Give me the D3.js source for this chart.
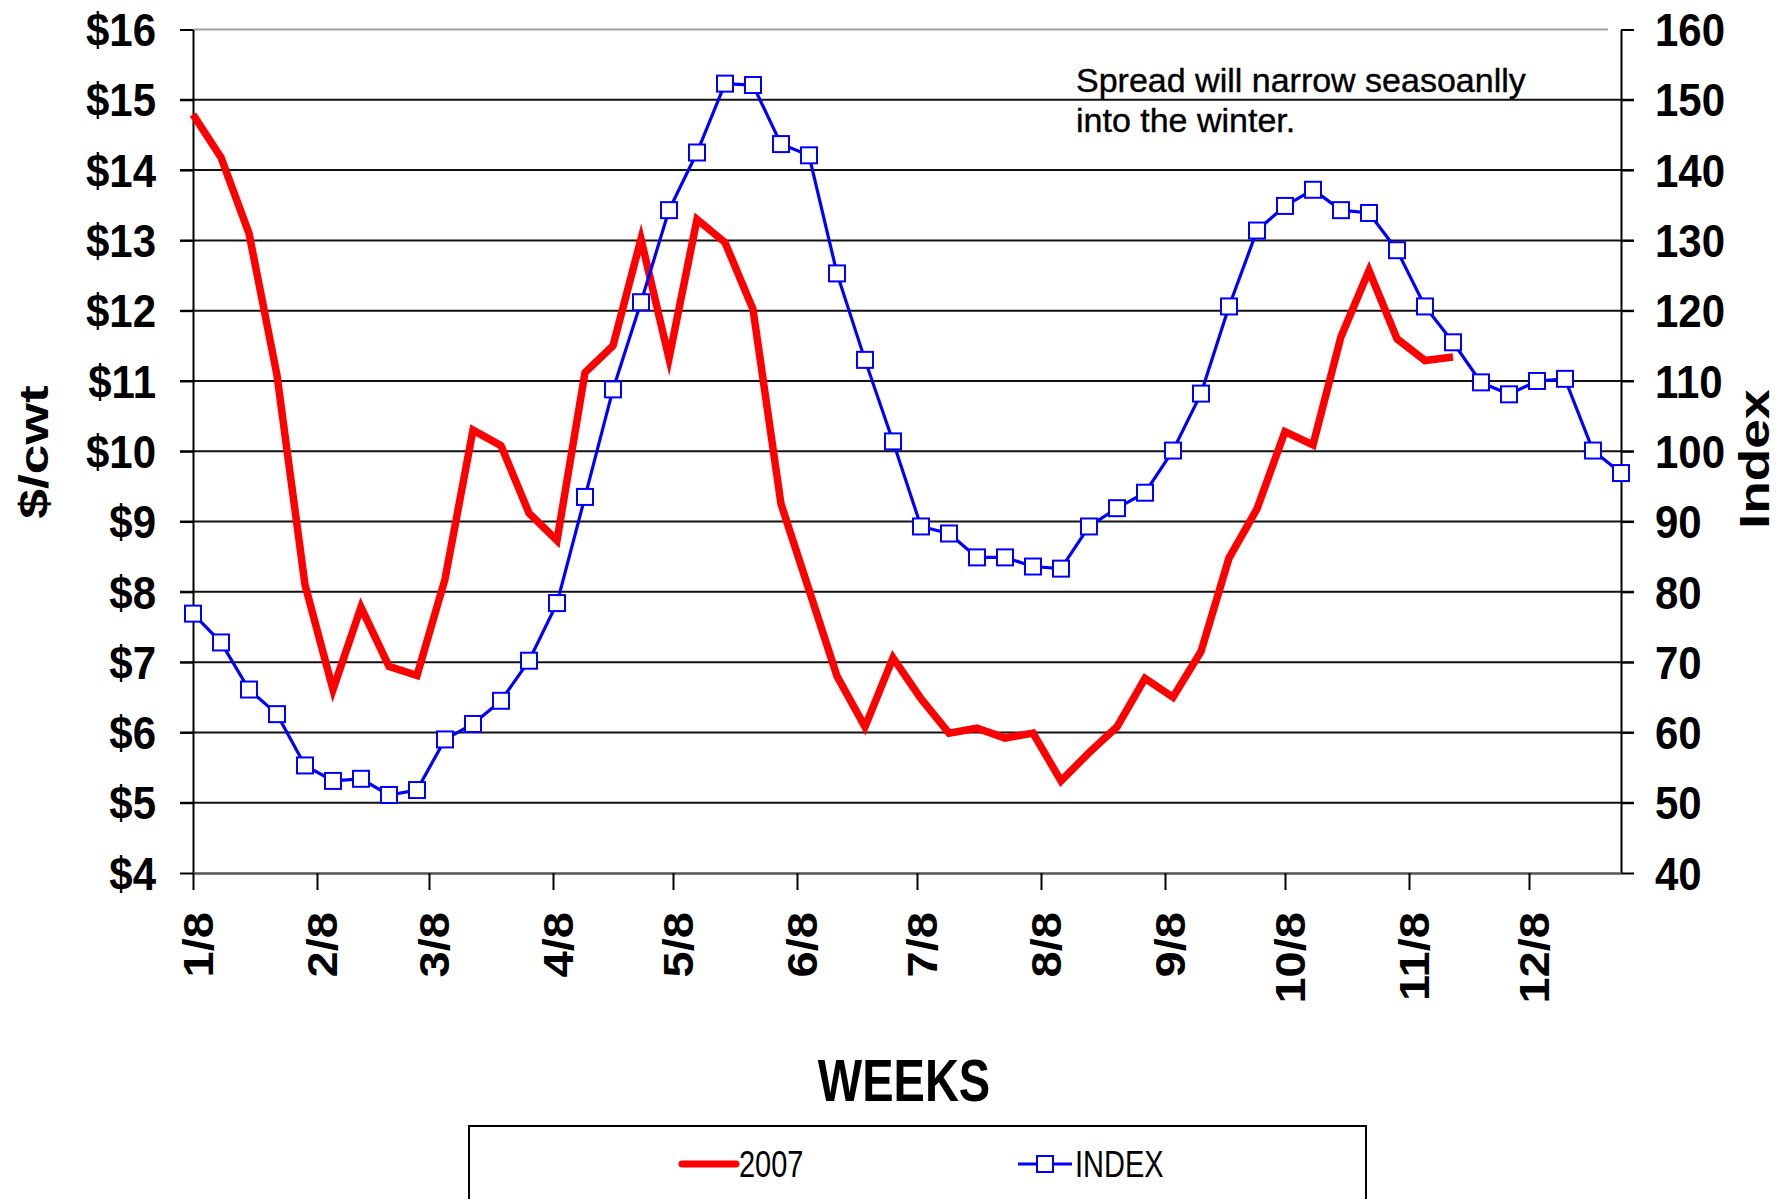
<!DOCTYPE html>
<html><head><meta charset="utf-8">
<script src="https://cdn.jsdelivr.net/npm/d3@7"></script>
<style>body{margin:0;background:#fff}</style>
</head><body>
<svg id="c" width="1778" height="1199"></svg>
<script>
// ---- data ----
const weekLabels = ["1/8","1/15","1/22","1/29","2/5","2/12","2/19","2/26","3/5","3/12","3/19","3/26",
  "4/2","4/9","4/16","4/23","4/30","5/7","5/14","5/21","5/28","6/4","6/11","6/18","6/25",
  "7/2","7/9","7/16","7/23","7/30","8/6","8/13","8/20","8/27","9/3","9/10","9/17","9/24",
  "10/1","10/8","10/15","10/22","10/29","11/5","11/12","11/19","11/26","12/3","12/10","12/17","12/24","12/31"];
const series2007 = [14.79,14.18,13.10,11.08,8.10,6.61,7.78,6.94,6.81,8.18,10.30,10.08,9.12,8.73,
  11.12,11.50,13.02,11.32,13.30,12.97,12.02,9.25,8.03,6.80,6.08,7.06,6.48,5.99,6.06,5.92,5.99,
  5.31,5.71,6.08,6.77,6.50,7.15,8.48,9.18,10.28,10.09,11.63,12.57,11.60,11.29,11.34];
const seriesIndex = [76.9,72.8,66.1,62.6,55.3,53.1,53.4,51.1,51.8,59.0,61.2,64.5,70.2,78.4,
  93.5,108.8,121.2,134.3,142.5,152.3,152.1,143.7,142.1,125.3,113.0,101.4,89.3,88.3,84.9,84.9,
  83.6,83.3,89.3,91.9,94.1,100.1,108.2,120.6,131.4,134.9,137.2,134.3,133.9,128.6,120.6,115.5,
  109.8,108.1,110.0,110.3,100.1,96.9];
const xTickLabels = ["1/8","2/8","3/8","4/8","5/8","6/8","7/8","8/8","9/8","10/8","11/8","12/8"];
const leftTicks = [4,5,6,7,8,9,10,11,12,13,14,15,16];
const rightTicks = [40,50,60,70,80,90,100,110,120,130,140,150,160];
const seriesNames = ["2007","INDEX"];
const noteLines = ["Spread will narrow seasoanlly","into the winter."];

// ---- layout ----
const W = 1778, H = 1199;
const m = {left:193, right:1621, top:29.5, bottom:873};
const FONT = "'Liberation Sans', Arial, Helvetica, sans-serif";
const parse = d3.timeParse("%m/%d/%Y");
const dates = weekLabels.map(w => parse(w + "/2007"));
const tickDates = xTickLabels.map(w => parse(w + "/2007"));

const x = d3.scaleTime().domain([dates[0], dates[dates.length-1]]).range([m.left, m.right]);
const yL = d3.scaleLinear().domain([4,16]).range([m.bottom, m.top]);
const yR = d3.scaleLinear().domain([40,160]).range([m.bottom, m.top]);

const svg = d3.select("#c");
svg.append("rect").attr("width", W).attr("height", H).attr("fill", "#fff");

// gridlines
svg.append("g").selectAll("line").data(leftTicks.filter(d => d > 4 && d < 16)).join("line")
  .attr("x1", m.left - 13).attr("x2", m.right + 13)
  .attr("y1", d => yL(d)).attr("y2", d => yL(d))
  .attr("stroke", "#111").attr("stroke-width", 2);
svg.append("line").attr("x1", m.left).attr("x2", m.right - 13)
  .attr("y1", yL(16)).attr("y2", yL(16)).attr("stroke", "#a0a0a0").attr("stroke-width", 2);

// left axis
const gL = svg.append("g").attr("transform", `translate(${m.left},0)`)
  .call(d3.axisLeft(yL).tickValues(leftTicks).tickFormat(d => "$" + d).tickSize(13).tickSizeOuter(0))
  .attr("font-family", FONT).attr("font-size", 42).attr("font-weight", "bold");
gL.select(".domain").attr("stroke", "#000").attr("stroke-width", 2);
gL.selectAll(".tick line").attr("stroke", "#000").attr("stroke-width", 2);
gL.selectAll(".tick text").attr("x", null).attr("dy", "0.35em").attr("fill", "#000")
  .attr("text-anchor", "end").attr("transform", "translate(-37,0) scale(1,1.1)");

// right axis
const gR = svg.append("g").attr("transform", `translate(${m.right},0)`)
  .call(d3.axisRight(yR).tickValues(rightTicks).tickSize(13).tickSizeOuter(0))
  .attr("font-family", FONT).attr("font-size", 42).attr("font-weight", "bold");
gR.select(".domain").attr("stroke", "#000").attr("stroke-width", 2);
gR.selectAll(".tick line").attr("stroke", "#000").attr("stroke-width", 2);
gR.selectAll(".tick text").attr("x", null).attr("dy", "0.35em").attr("fill", "#000")
  .attr("text-anchor", "start").attr("transform", "translate(34,0) scale(1,1.1)");

// x axis
const gX = svg.append("g").attr("transform", `translate(0,${m.bottom})`)
  .call(d3.axisBottom(x).tickValues(tickDates).tickFormat((d, i) => xTickLabels[i]).tickSize(17).tickSizeOuter(0))
  .attr("font-family", FONT).attr("font-size", 42).attr("font-weight", "bold");
gX.select(".domain").attr("stroke", "#555").attr("stroke-width", 2.5);
gX.selectAll(".tick line").attr("stroke", "#000").attr("stroke-width", 2);
gX.selectAll(".tick text").attr("y", null).attr("dy", "0.35em").attr("fill", "#000")
  .attr("text-anchor", "end").attr("transform", "translate(5,39) scale(1,1.12) rotate(-90)");

// series 2007 (left axis)
const lineL = d3.line().x((d, i) => x(dates[i])).y(d => yL(d));
svg.append("path").datum(series2007).attr("d", lineL)
  .attr("fill", "none").attr("stroke", "#ff0000").attr("stroke-width", 7.5)
  .attr("stroke-linejoin", "miter").attr("stroke-miterlimit", 6).attr("stroke-linecap", "butt");

// index (right axis)
const lineR = d3.line().x((d, i) => x(dates[i])).y(d => yR(d));
svg.append("path").datum(seriesIndex).attr("d", lineR)
  .attr("fill", "none").attr("stroke", "#0000ff").attr("stroke-width", 3.2);
svg.append("g").selectAll("rect").data(seriesIndex).join("rect")
  .attr("x", (d, i) => x(dates[i]) - 8).attr("y", d => yR(d) - 8)
  .attr("width", 16).attr("height", 16)
  .attr("fill", "#fff").attr("stroke", "#0000ff").attr("stroke-width", 2);

// titles
function stext(tx, ty, sx, sy, rot, txt, size, weight, anchor) {
  return svg.append("text")
    .attr("transform", `translate(${tx},${ty}) scale(${sx},${sy})` + (rot ? ` rotate(${rot})` : ""))
    .attr("dy", "0.35em").attr("text-anchor", anchor).attr("font-family", FONT)
    .attr("font-size", size).attr("font-weight", weight).attr("fill", "#000").text(txt);
}
stext(34, 452, 1, 1.3, -90, "$/cwt", 41, "bold", "middle");
stext(1754, 459, 1, 1.27, -90, "Index", 42, "bold", "middle");
stext(904, 1080, 1, 1.25, 0, "WEEKS", 47, "bold", "middle");

// annotation
svg.append("g").selectAll("text").data(noteLines).join("text")
  .attr("x", 1076).attr("y", (d, i) => 92 + i * 39.5)
  .attr("font-family", FONT).attr("font-size", 34).attr("fill", "#000")
  .attr("stroke", "#000").attr("stroke-width", 0.4).text(d => d);

// legend
const lg = svg.append("g");
lg.append("rect").attr("x", 469).attr("y", 1126).attr("width", 897).attr("height", 110)
  .attr("fill", "#fff").attr("stroke", "#000").attr("stroke-width", 2);
const ly = 1164;
lg.append("line").attr("x1", 682).attr("x2", 736).attr("y1", ly).attr("y2", ly)
  .attr("stroke", "#ff0000").attr("stroke-width", 7).attr("stroke-linecap", "round");
lg.append("line").attr("x1", 1018).attr("x2", 1072).attr("y1", ly).attr("y2", ly)
  .attr("stroke", "#0000ff").attr("stroke-width", 3);
lg.append("rect").attr("x", 1037).attr("y", ly - 8).attr("width", 16).attr("height", 16)
  .attr("fill", "#fff").attr("stroke", "#0000ff").attr("stroke-width", 2);
[[739, seriesNames[0]], [1075, seriesNames[1]]].forEach(([lx, t]) => {
  lg.append("text").attr("transform", `translate(${lx},${ly}) scale(1,1.3)`).attr("dy", "0.35em")
    .attr("font-family", FONT).attr("font-size", 29).attr("fill", "#000").text(t);
});
</script>
</body></html>
